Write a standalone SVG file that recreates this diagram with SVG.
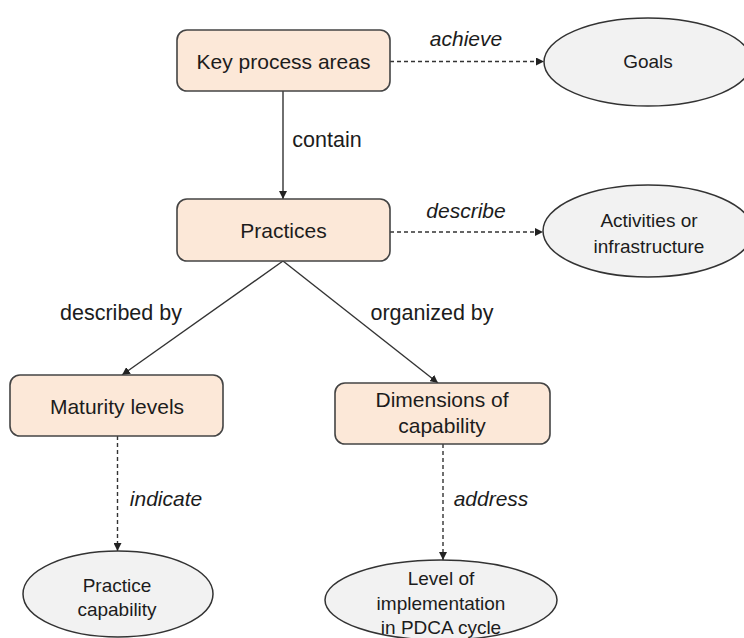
<svg xmlns="http://www.w3.org/2000/svg" width="744" height="638" viewBox="0 0 744 638">
<defs>
<marker id="ah" viewBox="0 0 10 10" refX="10" refY="5" markerWidth="8" markerHeight="8" markerUnits="userSpaceOnUse" orient="auto">
<path d="M0,0 L10,5 L0,10 z" fill="#222"/>
</marker>
<style>
.box{fill:#FCE8D8;stroke:#444;stroke-width:1.6}
.ell{fill:#F2F2F2;stroke:#333;stroke-width:1.5}
.t{font-family:"Liberation Sans",Arial,sans-serif;fill:#1c1c1c;text-anchor:middle}
.nt{font-size:21px}
.et{font-size:19px}
.lb{font-size:21.5px}
.it{font-style:italic;font-size:21px}
.solid{stroke:#333;stroke-width:1.4;fill:none;marker-end:url(#ah)}
.dash{stroke:#333;stroke-width:1.4;fill:none;stroke-dasharray:4 3;marker-end:url(#ah)}
</style>
</defs>
<rect width="744" height="638" fill="#fff"/>
<g id="connectors">
<line class="dash" x1="390" y1="61.5" x2="544" y2="61.5"/>
<line class="solid" x1="283" y1="91" x2="283" y2="199"/>
<line class="dash" x1="390" y1="232" x2="543" y2="232"/>
<line class="solid" x1="283" y1="261" x2="122" y2="375"/>
<line class="solid" x1="283" y1="261" x2="438" y2="383"/>
<line class="dash" x1="117.5" y1="436" x2="117.5" y2="551"/>
<line class="dash" x1="443" y1="444" x2="443" y2="560"/>
<text class="t it" x="466" y="46">achieve</text>
<text class="t lb" x="327" y="147">contain</text>
<text class="t it" x="466" y="218">describe</text>
<text class="t lb" x="121" y="320">described by</text>
<text class="t lb" x="432" y="320">organized by</text>
<text class="t it" x="166" y="506">indicate</text>
<text class="t it" x="491" y="506">address</text>
</g>
<g id="kpa">
<rect class="box" x="177" y="30" width="213" height="61" rx="10"/>
<text class="t nt" x="283.5" y="69">Key process areas</text>
</g>
<g id="goals">
<ellipse class="ell" cx="648" cy="62" rx="104" ry="44"/>
<text class="t et" x="648" y="68">Goals</text>
</g>
<g id="practices">
<rect class="box" x="177" y="199" width="213" height="62" rx="10"/>
<text class="t nt" x="283.5" y="238">Practices</text>
</g>
<g id="activities">
<ellipse class="ell" cx="648" cy="231" rx="105" ry="46"/>
<text class="t et" x="649" y="227">Activities or</text>
<text class="t et" x="649" y="253">infrastructure</text>
</g>
<g id="maturity">
<rect class="box" x="10" y="375" width="213" height="61" rx="10"/>
<text class="t nt" x="117" y="414">Maturity levels</text>
</g>
<g id="dimensions">
<rect class="box" x="335" y="383" width="215" height="61" rx="10"/>
<text class="t nt" x="442" y="407">Dimensions of</text>
<text class="t nt" x="442" y="433">capability</text>
</g>
<g id="practice-capability">
<ellipse class="ell" cx="118" cy="594" rx="95" ry="43"/>
<text class="t et" x="117" y="592">Practice</text>
<text class="t et" x="117" y="616">capability</text>
</g>
<g id="level">
<ellipse class="ell" cx="441" cy="600" rx="116" ry="40"/>
<text class="t et" x="441" y="585">Level of</text>
<text class="t et" x="441" y="610">implementation</text>
<text class="t et" x="441" y="634">in PDCA cycle</text>
</g>
</svg>
